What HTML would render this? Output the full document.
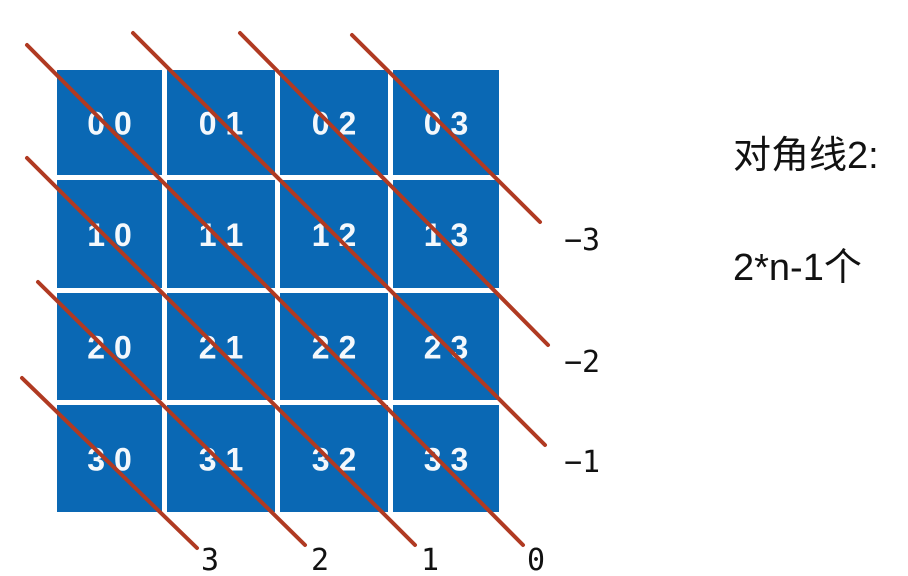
<!DOCTYPE html>
<html><head><meta charset="utf-8"><style>
html,body{margin:0;padding:0;background:#fff;width:908px;height:576px;overflow:hidden}
svg{display:block}
</style></head><body>
<svg id="chart" width="908" height="576" xmlns="http://www.w3.org/2000/svg">
<g id="cells"></g>
<g id="lines"></g>
<g id="labels"></g>
<text x="733" y="168" font-family="'Liberation Sans','Noto Sans CJK SC',sans-serif" font-size="38" fill="#111">对角线2:</text>
<text x="733" y="280" font-family="'Liberation Sans','Noto Sans CJK SC',sans-serif" font-size="38" fill="#111">2*n-1个</text>
</svg>
<script>
const colX = [57, 167, 280, 393];
const colW = [105, 108, 108, 106];
const rowY = [70, 180, 293, 405];
const rowH = [105, 108, 107, 107];
const cellLabels = [["0 0","0 1","0 2","0 3"],["1 0","1 1","1 2","1 3"],["2 0","2 1","2 2","2 3"],["3 0","3 1","3 2","3 3"]];
const diagIds = [3, 2, 1, 0, -1, -2, -3];
const diagStartX = [22, 38, 27, 27, 133, 240, 352];
const diagStartY = [378, 282, 158, 45, 33, 33, 35];
const diagEndX = [197, 305, 415, 523, 545, 548, 540];
const diagEndY = [548, 545, 545, 545, 445, 345, 222];
const labelX = [210, 320, 430, 536, 582, 582, 582];
const labelY = [570, 570, 570, 570, 472, 372, 250];

const NS = "http://www.w3.org/2000/svg";
const gc = document.getElementById('cells');
const gl = document.getElementById('lines');
const gt = document.getElementById('labels');
for (let r = 0; r < 4; r++) {
  for (let c = 0; c < 4; c++) {
    const rect = document.createElementNS(NS, 'rect');
    
    
    rect.setAttribute('x', colX[c]); rect.setAttribute('y', rowY[r]);
    rect.setAttribute('width', colW[c]); rect.setAttribute('height', rowH[r]);
    rect.setAttribute('fill', '#0a68b4');
    gc.appendChild(rect);
    const t = document.createElementNS(NS, 'text');
    
    
    t.setAttribute('x', colX[c] + colW[c] / 2);
    t.setAttribute('y', rowY[r] + rowH[r] / 2 + 12);
    t.setAttribute('text-anchor', 'middle');
    t.setAttribute('font-family', "'Liberation Sans',sans-serif");
    t.setAttribute('font-weight', 'bold');
    t.setAttribute('font-size', '32');
    t.setAttribute('fill', '#f4f8fc');
    t.textContent = cellLabels[r][c];
    gc.appendChild(t);
  }
}
for (let i = 0; i < diagIds.length; i++) {
  const ln = document.createElementNS(NS, 'line');
  
  
  ln.setAttribute('x1', diagStartX[i]); ln.setAttribute('y1', diagStartY[i]);
  ln.setAttribute('x2', diagEndX[i]); ln.setAttribute('y2', diagEndY[i]);
  ln.setAttribute('stroke', '#b03a22');
  ln.setAttribute('stroke-width', '4');
  ln.setAttribute('stroke-linecap', 'round');
  gl.appendChild(ln);
  const t = document.createElementNS(NS, 'text');
  
  
  t.setAttribute('x', labelX[i]); t.setAttribute('y', labelY[i]);
  t.setAttribute('text-anchor', 'middle');
  t.setAttribute('font-family', "'DejaVu Sans Mono','Liberation Mono',monospace");
  t.setAttribute('font-size', '30');
  t.setAttribute('fill', '#111');
  t.textContent = diagIds[i] < 0 ? '\u2212' + Math.abs(diagIds[i]) : String(diagIds[i]);
  gt.appendChild(t);
}
</script>
</body></html>
